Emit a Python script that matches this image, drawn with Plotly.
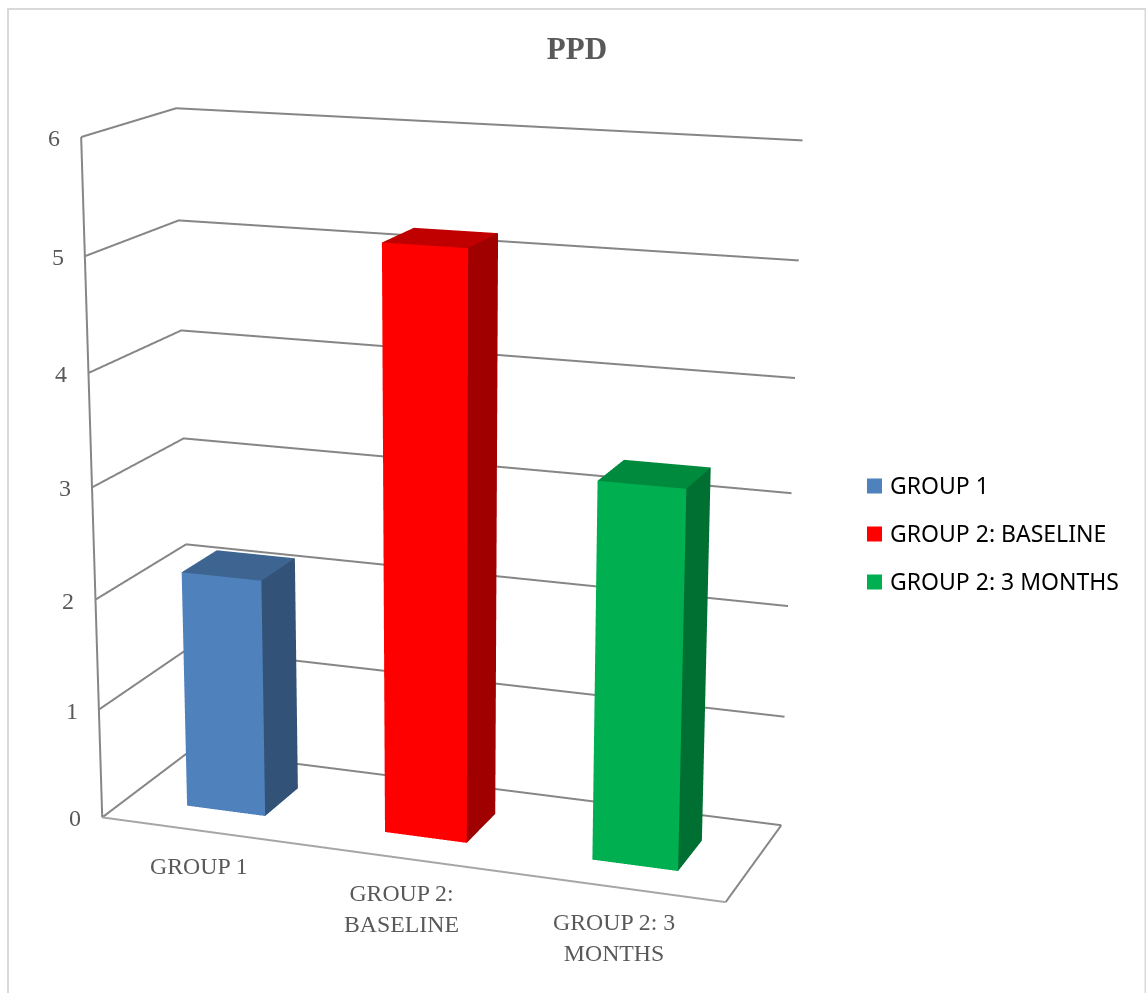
import plotly.graph_objects as go

# Chart content
categories = ["GROUP 1", "GROUP 2: BASELINE", "GROUP 2: 3 MONTHS"]
axis_labels = ["GROUP 1", "GROUP 2:<br>BASELINE", "GROUP 2: 3<br>MONTHS"]
ppd_values = [2.16, 5.18, 3.32]
z_ticks = [0, 1, 2, 3, 4, 5, 6]

# Bar face colours
front_colors = ["#4F81BD", "#FF0000", "#00B050"]
side_colors = ["#325278", "#A00000", "#006F32"]
top_colors = ["#3E6591", "#C00000", "#008A3E"]

# Page geometry: the 3D viewport is taller than the window to give a long lens
WIDTH = 1146
HEIGHT = 2564
TOP = 761
SCENE_W = 885

GRID = "#868686"
TEXT = "#595959"
SERIF = "Liberation Serif"
SANS = "Noto Sans"

BAR_OFFSET = 0.507
BAR_HALF = 0.2
DEPTH = (0.28, 0.68)


def py(y):
    return 1 - (y + TOP) / HEIGHT


def px(x):
    return x / WIDTH


def bar_mesh(center, value, front, side, top, name):
    x0, x1 = center - BAR_HALF, center + BAR_HALF
    y0, y1 = DEPTH
    xs = [x0, x1, x1, x0, x0, x1, x1, x0]
    ys = [y0, y0, y1, y1, y0, y0, y1, y1]
    zs = [0, 0, 0, 0, value, value, value, value]
    i = [0, 0, 1, 1, 4, 4]
    j = [1, 5, 2, 6, 5, 6]
    k = [5, 4, 6, 5, 6, 7]
    return go.Mesh3d(
        x=xs, y=ys, z=zs, i=i, j=j, k=k, name=name,
        facecolor=[front, front, side, side, top, top],
        flatshading=True,
        lighting=dict(ambient=1, diffuse=0, specular=0, fresnel=0, roughness=1),
        hoverinfo="skip",
    )


fig = go.Figure()

# Wall gridlines plus the floor outline
line_x, line_y, line_z = [], [], []
for t in z_ticks:
    line_x += [0, 0, 3, None]
    line_y += [0, 1, 1, None]
    line_z += [t, t, t, None]
line_x += [0, 0, None, 3, 3, None]
line_y += [0, 0, None, 0, 1, None]
line_z += [0, 6, None, 0, 0, None]
fig.add_trace(go.Scatter3d(x=line_x, y=line_y, z=line_z, mode="lines",
                           line=dict(color=GRID, width=4), hoverinfo="skip",
                           showlegend=False))
fig.add_trace(go.Scatter3d(x=[0, 3], y=[0, 0], z=[0, 0], mode="lines",
                           line=dict(color="#A6A6A6", width=4), hoverinfo="skip",
                           showlegend=False))

for idx, (name, value) in enumerate(zip(categories, ppd_values)):
    fig.add_trace(bar_mesh(idx + BAR_OFFSET, value, front_colors[idx], side_colors[idx],
                           top_colors[idx], name))

# Value axis and category labels anchored in data space
annotations3d = []
for t in z_ticks:
    annotations3d.append(dict(x=0, y=0, z=t, text=str(t), showarrow=False,
                              xanchor="center", yanchor="middle", xshift=-27, yshift=-1,
                              font=dict(family=SERIF, size=24, color=TEXT)))
for idx, label in enumerate(axis_labels):
    annotations3d.append(dict(x=idx + 0.5, y=0, z=0, text=label, showarrow=False,
                              xanchor="center", yanchor="top", xshift=-1, yshift=-20,
                              font=dict(family=SERIF, size=23.8, color=TEXT)))

axis_off = dict(visible=True, showgrid=False, showline=False, zeroline=False,
                showticklabels=False, showbackground=False, showspikes=False,
                ticks="", title=dict(text=""))

# Legend swatches and labels
shapes = [dict(type="rect", xref="paper", yref="paper", x0=px(8), x1=px(1145.5),
               y0=py(1010), y1=py(9), line=dict(color="#D9D9D9", width=2),
               fillcolor="rgba(0,0,0,0)")]
annotations = []
for name, color, yc in zip(categories, front_colors, [486, 534, 582]):
    shapes.append(dict(type="rect", xref="paper", yref="paper", x0=px(867), x1=px(882),
                       y0=py(yc + 7.5), y1=py(yc - 7.5), fillcolor=color,
                       line=dict(width=0)))
    annotations.append(dict(xref="paper", yref="paper", x=px(888), y=py(yc - 1), text=name,
                            showarrow=False, xanchor="left", yanchor="middle",
                            font=dict(family=SANS, size=23, color="#000000")))

fig.update_layout(
    width=WIDTH, height=HEIGHT, autosize=False,
    margin=dict(l=0, r=0, t=0, b=0),
    paper_bgcolor="white", plot_bgcolor="white",
    showlegend=False, hovermode=False,
    title=dict(text="<b>PPD</b>", x=px(577), y=py(48), xref="paper", yref="paper",
               xanchor="center", yanchor="middle",
               font=dict(family=SERIF, size=31, color=TEXT)),
    shapes=shapes, annotations=annotations,
    scene=dict(
        domain=dict(x=[0, SCENE_W / WIDTH], y=[0, 1]),
        bgcolor="white",
        aspectmode="manual",
        aspectratio=dict(x=1, y=0.3299, z=1.0610),
        xaxis=dict(range=[0, 3], **axis_off),
        yaxis=dict(range=[0, 1], **axis_off),
        zaxis=dict(range=[0, 6], **axis_off),
        camera=dict(
            projection=dict(type="perspective"),
            up=dict(x=0, y=0, z=1),
            center=dict(x=0.0031, y=0, z=-0.0476),
            eye=dict(x=1.5502, y=-4.2271, z=1.1878),
        ),
        annotations=annotations3d,
    ),
)

# Slide the tall plot up so the long-lens viewport is centred on the chart
shift = f"""
var gd = document.getElementById('{{plot_id}}');
gd.style.position = 'absolute';
gd.style.left = '0px';
gd.style.top = '-{TOP}px';
document.documentElement.style.overflow = 'hidden';
document.body.style.overflow = 'hidden';
"""
fig.write_html("out.html", post_script=shift, config=dict(displayModeBar=False))
